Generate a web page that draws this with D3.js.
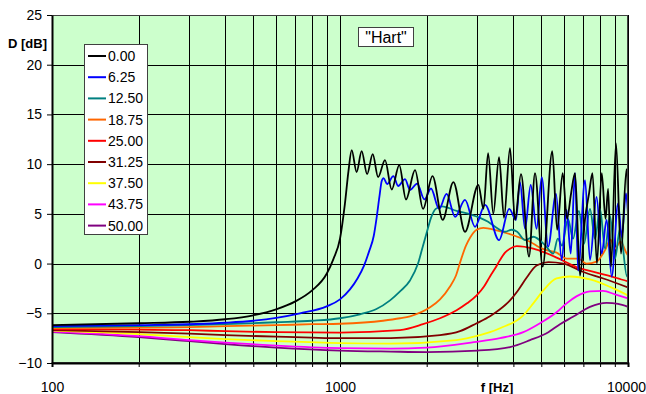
<!DOCTYPE html>
<html>
<head>
<meta charset="utf-8">
<script src="https://cdn.jsdelivr.net/npm/d3@7"></script>
<style>
  body { margin: 0; background: #fff; }
  svg { font-family: Arial, 'Liberation Sans', sans-serif; }
</style>
</head>
<body>
<div id="chart"></div>
<script>
// values: [frequency Hz, D dB]
const s000 = [[100,-6.2],[200,-6.0],[300,-5.85],[400,-5.6],[500,-5.2],[600,-4.6],[700,-3.8],[800,-2.7],[900,-1.0],[950,0.5],[1000,2.5],[1040,6.0],[1070,9.3],[1098,11.4],
  [1142,9.2],[1189,11.3],[1242,9.0],[1299,11.0],[1356,8.7],[1433,10.4],[1512,7.45],[1606,9.9],[1695,6.45],[1822,9.4],[1942,5.5],[2095,8.8],[2273,4.4],[2475,8.2],[2717,3.2],[3022,7.9],
  [3149,5.5],[3268,11.1],[3406,5.0],[3567,10.7],[3711,4.6],[3893,11.6],[4053,4.4],[4251,9.0],[4533,0.7],[4755,9.1],[5055,-0.3],[5459,11.3],[5675,3.4],[5932,9.1],[6141,4.5],[6340,7.0],[6548,9.1],
  [6813,-1.2],[7092,4.5],[7320,7.0],[7528,9.1],[7800,0.0],[8105,9.1],[8355,4.5],[8531,7.5],[8730,-0.3],[9085,12.1],[9456,1.0],[9883,9.5],[10000,7.0]];
const s625 = [[100,-6.3],[200,-6.2],[400,-5.95],[500,-5.75],[726,-5.0],[899,-4.3],[1000,-3.6],[1083,-2.6],[1150,-1.5],[1212,-0.2],[1261,1.2],[1310,2.8],[1340,4.6],[1370,6.7],[1396,8.3],[1417,8.6],
  [1458,8.0],[1532,8.8],[1592,7.8],[1682,8.5],[1750,7.4],[1853,8.05],[1964,6.45],[2070,7.55],[2208,5.5],[2345,7.0],[2509,4.7],[2717,6.4],[2944,3.7],[3189,5.9],[3567,2.35],[3870,5.5],[4083,4.4],
  [4217,8.2],[4390,3.5],[4594,7.9],[4815,3.5],[5016,8.7],[5280,1.7],[5623,7.0],[5886,0.35],[6120,5.4],[6325,1.0],[6548,9.1],[6711,-0.7],[7092,8.4],[7380,0.35],[7778,6.7],[8105,1.0],[8427,4.4],
  [8779,-1.3],[9240,6.05],[9510,2.7],[9841,7.05],[10000,5.0]];
const s1250 = [[100,-6.4],[200,-6.3],[300,-6.2],[400,-6.1],[600,-5.9],[800,-5.75],[1000,-5.5],[1173,-5.1],[1333,-4.6],[1492,-3.7],[1616,-2.8],[1750,-1.7],[1866,0.0],[1942,1.8],[2004,3.2],[2070,4.6],[2150,5.5],[2260,5.75],
  [2540,5.3],[2867,4.9],[3063,4.6],[3268,4.2],[3497,3.6],[3741,3.2],[3946,3.4],[4123,3.2],[4390,2.35],[4689,2.7],[5151,1.85],[5502,1.0],
  [5705,2.5],[5899,1.8],[6189,4.5],[6443,2.5],[6752,5.3],[7034,2.0],[7380,5.5],[7682,2.5],[7995,5.5],[8323,1.5],[8660,4.8],[9015,0.5],[9381,3.5],[9921,-1.3],[10000,-1.0]];
const s1875 = [[100,-6.5],[200,-6.45],[300,-6.4],[400,-6.3],[600,-6.2],[800,-6.1],[1000,-6.05],[1410,-5.75],[1616,-5.5],[1750,-5.3],[2054,-4.4],[2225,-3.6],[2410,-2.3],[2528,-1.2],[2631,0.4],[2738,1.8],[2828,2.6],[2982,3.4],[3145,3.6],
  [3497,3.35],[3998,2.85],[4217,2.6],[4568,2.2],[4948,1.6],[5216,1.35],[5650,1.1],[6120,0.5],[6711,0.5],[7183,0.0],[7778,0.2],[8323,1.35],[8695,2.4],[9015,1.5],[9419,2.2],[9898,1.0],[10000,0.8]];
const s2500 = [[100,-6.6],[200,-6.65],[300,-6.7],[400,-6.8],[600,-6.9],[1000,-6.95],[1616,-6.7],[1942,-6.1],[2225,-5.5],[2540,-4.7],[2761,-4.0],[2982,-3.2],[3163,-2.3],[3318,-1.3],[3454,-0.5],[3594,0.35],[3741,1.1],[3893,1.5],[4107,1.75],
  [4689,1.5],[5151,1.1],[5650,0.6],[6621,-0.35],[7778,-0.9],[9139,-1.45],[10000,-1.8]];
const s3125 = [[100,-6.7],[200,-6.9],[300,-7.05],[400,-7.2],[600,-7.35],[800,-7.45],[1000,-7.5],[1500,-7.5],[2225,-7.2],[2610,-6.8],[2982,-6.0],[3318,-5.3],[3594,-4.6],[3893,-3.7],[4150,-2.7],[4450,-1.4],[4815,-0.2],[5290,0.15],
  [5963,0.0],[6997,-0.85],[8211,-1.5],[10000,-2.4]];
const s3750 = [[100,-6.75],[200,-7.1],[300,-7.4],[400,-7.6],[600,-7.8],[1000,-8.0],[1500,-8.05],[2540,-7.7],[3063,-7.2],[3318,-6.9],[3594,-6.5],[4331,-5.2],[4689,-4.0],[5083,-2.7],[5650,-1.5],[6290,-1.3],
  [7380,-1.6],[8660,-2.35],[10000,-3.2]];
const s4375 = [[100,-6.85],[200,-7.3],[300,-7.7],[400,-7.95],[600,-8.25],[1000,-8.5],[1500,-8.55],[2000,-8.45],[2913,-7.9],[3594,-7.5],[4331,-6.9],[4948,-6.0],[5650,-4.9],[6120,-4.0],[6621,-3.3],[7380,-2.8],
  [8190,-2.75],[9015,-3.1],[10000,-3.5]];
const s5000 = [[100,-6.9],[200,-7.4],[300,-7.8],[400,-8.1],[600,-8.45],[1000,-8.75],[1500,-8.85],[2000,-8.9],[3000,-8.75],[3893,-8.4],[4568,-7.7],[5290,-6.9],[5806,-6.1],[6440,-5.35],[7380,-4.35],
  [8427,-3.95],[9240,-4.05],[10000,-4.35]];

const series = [s000, s625, s1250, s1875, s2500, s3125, s3750, s4375, s5000];
const legendLabels = ['0.00', '6.25', '12.50', '18.75', '25.00', '31.25', '37.50', '43.75', '50.00'];
const colors = ['#000000', '#0000ff', '#008080', '#ff6600', '#ff0000', '#800000', '#ffff00', '#ff00ff', '#800080'];
const xLabels = [100, 1000, 10000];
const yTicks = [-10, -5, 0, 5, 10, 15, 20, 25];

const width = 646;
const height = 394;
const plotLeft = 52, plotRight = 628, plotTop = 15, plotBottom = 363;

const svg = d3.select('#chart').append('svg')
  .attr('width', width)
  .attr('height', height);

const x = d3.scaleLog().domain([100, 10000]).range([plotLeft, plotRight]);
const y = d3.scaleLinear().domain([-10, 25]).range([plotBottom, plotTop]);

svg.append('rect')
  .attr('x', plotLeft).attr('y', plotTop)
  .attr('width', plotRight - plotLeft).attr('height', plotBottom - plotTop)
  .attr('fill', '#ccffcc');

// grid
svg.append('g')
  .selectAll('line')
  .data(x.ticks())
  .enter()
  .append('line')
  .attr('x1', (d) => Math.round(x(d)) + 0.5)
  .attr('x2', (d) => Math.round(x(d)) + 0.5)
  .attr('y1', plotTop).attr('y2', plotBottom)
  .attr('stroke', '#000').attr('stroke-width', 1);

svg.append('g')
  .selectAll('line')
  .data(yTicks)
  .enter()
  .append('line')
  .attr('x1', plotLeft).attr('x2', plotRight)
  .attr('y1', (d) => Math.round(y(d)) + 0.5)
  .attr('y2', (d) => Math.round(y(d)) + 0.5)
  .attr('stroke', '#000').attr('stroke-width', 1);

svg.append('clipPath').attr('id', 'clip')
  .append('rect')
  .attr('x', plotLeft).attr('y', plotTop)
  .attr('width', plotRight - plotLeft).attr('height', plotBottom - plotTop);

const line = d3.line()
  .x((d) => x(d[0]))
  .y((d) => y(d[1]))
  .curve(d3.curveMonotoneX);

// draw the last series first so black ends on top
series.slice().reverse().forEach((s, i) => {
  svg.append('path')
    .datum(s)
    .attr('clip-path', 'url(#clip)')
    .attr('fill', 'none')
    .attr('stroke', colors[series.length - 1 - i])
    .attr('stroke-width', 1.8)
    .attr('d', line);
});

// plot border
svg.append('rect')
  .attr('x', plotLeft + 0.5).attr('y', plotTop + 0.5)
  .attr('width', plotRight - plotLeft - 1).attr('height', plotBottom - plotTop - 1)
  .attr('fill', 'none')
  .attr('stroke', '#404040');

const xAxis = (g) => {
  g.attr('transform', `translate(0, ${plotBottom})`)
    .call(d3.axisBottom(x)
      .tickValues(x.ticks())
      .tickFormat((d) => (xLabels.includes(d) ? d : ''))
      .tickSize(4)
      .tickPadding(15));
  g.attr('font-family', null).attr('font-size', 14);
  g.select('.domain').attr('stroke-width', 2);
  g.selectAll('text').attr('fill', '#000');
  // keep the last label inside the page
  g.selectAll('text').filter((d) => d === 10000).attr('dx', -2);
};

const yAxis = (g) => {
  g.attr('transform', `translate(${plotLeft}, 0)`)
    .call(d3.axisLeft(y).tickValues(yTicks).tickSize(5).tickPadding(5).tickSizeOuter(0));
  g.attr('font-family', null).attr('font-size', 14);
  g.select('.domain').attr('stroke-width', 2);
  g.selectAll('text').attr('fill', '#000');
};

svg.append('g').call(xAxis);
svg.append('g').call(yAxis);

svg.append('text')
  .attr('x', 8).attr('y', 48)
  .attr('font-size', 13).attr('font-weight', 'bold')
  .text('D [dB]');

svg.append('text')
  .attr('x', 497).attr('y', 392)
  .attr('text-anchor', 'middle')
  .attr('font-size', 13).attr('font-weight', 'bold')
  .text('f [Hz]');

// title box
svg.append('rect')
  .attr('x', 358.5).attr('y', 27.5)
  .attr('width', 55).attr('height', 19)
  .attr('fill', '#fff').attr('stroke', '#404040');
svg.append('text')
  .attr('x', 386).attr('y', 43)
  .attr('text-anchor', 'middle')
  .attr('font-size', 16)
  .text('"Hart"');

// legend
const legend = svg.append('g');
legend.append('rect')
  .attr('x', 84.5).attr('y', 44.5)
  .attr('width', 63).attr('height', 190)
  .attr('fill', '#fff').attr('stroke', '#404040');

legendLabels.forEach((label, i) => {
  const ly = 56 + i * 21.2;
  legend.append('line')
    .attr('x1', 88).attr('x2', 106)
    .attr('y1', ly).attr('y2', ly)
    .attr('stroke', colors[i]).attr('stroke-width', 2);
  legend.append('text')
    .attr('x', 108).attr('y', ly + 5)
    .attr('font-size', 14)
    .text(label);
});
</script>
</body>
</html>
